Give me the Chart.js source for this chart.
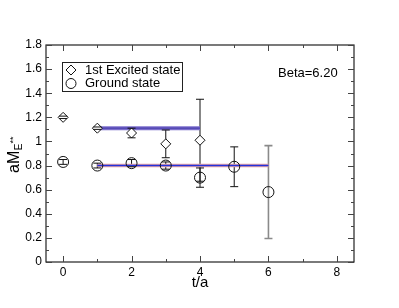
<!DOCTYPE html>
<html><head><meta charset="utf-8">
<script src="https://cdn.jsdelivr.net/npm/chart.js@4"></script>
<style>html,body{margin:0;padding:0;background:#fff}#c{display:block}</style>
</head><body>
<canvas id="c" width="399" height="308"></canvas>
<script>
const tValues = [0, 1, 2, 3, 4, 5, 6];
const excitedT = [0, 1, 2, 3, 4];
const excitedVal = [1.20, 1.11, 1.07, 0.98, 1.01];
const excitedErr = [0.01, 0.01, 0.04, 0.115, 0.34];
const groundVal = [0.83, 0.80, 0.82, 0.80, 0.70, 0.79, 0.58];
const groundErr = [0.02, 0.02, 0.03, 0.03, 0.08, 0.165, 0.385];
const excitedFit = 1.11, excitedFitRange = [1, 4];
const groundFit = 0.80, groundFitRange = [1, 6];
const xTicks = [0, 2, 4, 6, 8];
const xMinor = [1, 3, 5, 7];
const yTicks = [0, 0.2, 0.4, 0.6, 0.8, 1.0, 1.2, 1.4, 1.6, 1.8];
const yMinor = [0.1, 0.3, 0.5, 0.7, 0.9, 1.1, 1.3, 1.5, 1.7];
const legendLabels = ["1st Excited state", "Ground state"];
const betaLabel = "Beta=6.20";
const xTitle = "t/a";

const FONT = "'Liberation Sans', Arial, sans-serif";

const excitedPts = excitedT.map((t, i) => ({x: t, y: excitedVal[i], e: excitedErr[i]}));
const groundPts = tValues.map((t, i) => ({x: t, y: groundVal[i], e: groundErr[i], grey: t === 6}));

function errorBars(chart, caps) {
  const ctx = chart.ctx, xs = chart.scales.x, ys = chart.scales.y;
  ctx.save();
  ctx.lineWidth = 1;
  [excitedPts, groundPts].forEach(arr => arr.forEach(p => {
    const px = xs.getPixelForValue(p.x);
    const top = ys.getPixelForValue(p.y + p.e), bot = ys.getPixelForValue(p.y - p.e);
    ctx.strokeStyle = p.grey ? '#8a8a8a' : '#111';
    ctx.lineWidth = p.grey ? 1.6 : 1;
    ctx.beginPath();
    if (!caps) { ctx.moveTo(px, top); ctx.lineTo(px, bot); }
    else { ctx.moveTo(px - 4, top); ctx.lineTo(px + 4, top); ctx.moveTo(px - 4, bot); ctx.lineTo(px + 4, bot); }
    ctx.stroke();
  }));
  ctx.restore();
}

const decor = {
  id: 'decor',
  beforeDatasetsDraw(chart) { errorBars(chart, false); },
  afterDatasetsDraw(chart) { errorBars(chart, true); },
  afterDraw(chart) {
    const ctx = chart.ctx, a = chart.chartArea, xs = chart.scales.x, ys = chart.scales.y;
    ctx.save();
    ctx.strokeStyle = '#222'; ctx.lineWidth = 1.2;
    ctx.strokeRect(a.left, a.top, a.right - a.left, a.bottom - a.top);
    ctx.lineWidth = 1; ctx.strokeStyle = '#444';
    ctx.beginPath();
    xTicks.forEach(v => { const p = Math.round(xs.getPixelForValue(v)) + 0.5;
      ctx.moveTo(p, a.bottom); ctx.lineTo(p, a.bottom - 6); ctx.moveTo(p, a.top); ctx.lineTo(p, a.top + 6); });
    xMinor.forEach(v => { const p = Math.round(xs.getPixelForValue(v)) + 0.5;
      ctx.moveTo(p, a.bottom); ctx.lineTo(p, a.bottom - 3); ctx.moveTo(p, a.top); ctx.lineTo(p, a.top + 3); });
    yTicks.forEach(v => { const p = Math.round(ys.getPixelForValue(v)) + 0.5;
      ctx.moveTo(a.left, p); ctx.lineTo(a.left + 6, p); ctx.moveTo(a.right, p); ctx.lineTo(a.right - 6, p); });
    yMinor.forEach(v => { const p = Math.round(ys.getPixelForValue(v)) + 0.5;
      ctx.moveTo(a.left, p); ctx.lineTo(a.left + 3, p); ctx.moveTo(a.right, p); ctx.lineTo(a.right - 3, p); });
    ctx.stroke();

    // legend
    ctx.fillStyle = '#fff'; ctx.strokeStyle = '#222'; ctx.lineWidth = 1;
    ctx.fillRect(62, 62, 120, 29); ctx.strokeRect(62.5, 62.5, 120, 29);
    ctx.strokeStyle = '#111'; ctx.lineWidth = 1;
    ctx.beginPath(); ctx.moveTo(71, 65); ctx.lineTo(76, 70); ctx.lineTo(71, 75); ctx.lineTo(66, 70); ctx.closePath(); ctx.stroke();
    ctx.beginPath(); ctx.arc(71, 83.5, 5, 0, Math.PI * 2); ctx.stroke();
    ctx.fillStyle = '#000'; ctx.font = '13px ' + FONT; ctx.textBaseline = 'middle'; ctx.textAlign = 'left';
    ctx.fillText(legendLabels[0], 85, 70.5);
    ctx.fillText(legendLabels[1], 85, 83.5);
    ctx.fillText(betaLabel, 278, 73);

    // x title
    ctx.font = '15px ' + FONT; ctx.textAlign = 'center';
    ctx.fillText(xTitle, (a.left + a.right) / 2, 283);

    // y title aM_{E**}
    ctx.translate(19, 173); ctx.rotate(-Math.PI / 2);
    ctx.textAlign = 'left'; ctx.textBaseline = 'alphabetic';
    ctx.font = '16px ' + FONT; ctx.fillText('aM', 0, 0);
    const w = ctx.measureText('aM').width;
    ctx.font = '10px ' + FONT; ctx.fillText('E', w + 0.5, 3);
    const we = ctx.measureText('E').width;
    ctx.font = '9px ' + FONT; ctx.fillText('**', w + we + 0.5, -3);
    ctx.restore();
  }
};

new Chart(document.getElementById('c'), {
  type: 'scatter',
  data: {
    datasets: [
      { data: excitedPts, pointStyle: 'rectRot', pointRadius: 5, pointHoverRadius: 5,
        pointBackgroundColor: '#fff', pointBorderColor: '#111', pointBorderWidth: 1, showLine: false, order: 0 },
      { data: groundPts, pointStyle: 'circle', pointRadius: 5.5, pointHoverRadius: 5.5,
        pointBackgroundColor: 'rgba(255,255,255,0)', pointBorderColor: '#111', pointBorderWidth: 1, showLine: false, order: 0 },
      { data: excitedFitRange.map(x => ({x, y: excitedFit})), showLine: true, borderColor: '#4a3fae', borderWidth: 1.2, pointRadius: 0, order: 1 },
      { data: excitedFitRange.map(x => ({x, y: excitedFit})), showLine: true, borderColor: '#7d6fcc', borderWidth: 4, pointRadius: 0, order: 2 },
      { data: groundFitRange.map(x => ({x, y: groundFit})), showLine: true, borderColor: '#2233dd', borderWidth: 1.5, pointRadius: 0, order: 1 },
      { data: groundFitRange.map(x => ({x, y: groundFit})), showLine: true, borderColor: '#e7a3a3', borderWidth: 3.5, pointRadius: 0, order: 2 }
    ]
  },
  options: {
    responsive: false, animation: false, events: [],
    layout: { padding: { top: 45, right: 45, left: 0, bottom: 0 } },
    plugins: { legend: { display: false }, tooltip: { enabled: false } },
    scales: {
      x: { type: 'linear', min: -0.5, max: 8.5,
        afterBuildTicks: s => { s.ticks = xTicks.map(v => ({value: v})); },
        afterFit: s => { s.height = 46; },
        grid: { display: false, drawTicks: false }, border: { display: false },
        ticks: { color: '#000', padding: 3, font: { family: FONT, size: 12 }, callback: v => String(v) } },
      y: { type: 'linear', min: 0, max: 1.8,
        afterBuildTicks: s => { s.ticks = yTicks.map(v => ({value: v})); },
        afterFit: s => { s.width = 46; },
        grid: { display: false, drawTicks: false }, border: { display: false },
        ticks: { color: '#000', padding: 4, font: { family: FONT, size: 12 }, callback: v => String(+v.toFixed(1)) } }
    }
  },
  plugins: [decor]
});
</script>
</body></html>
